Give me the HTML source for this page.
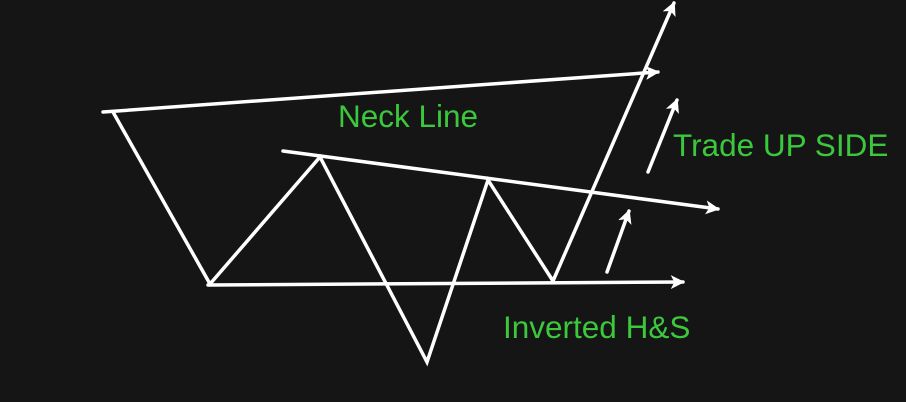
<!DOCTYPE html>
<html><head><meta charset="utf-8"><style>
html,body{margin:0;padding:0;background:#151515;}
svg{display:block}
text{font-family:"Liberation Sans",sans-serif;fill:#3cc83c;font-size:31.5px;}
</style></head><body>
<svg width="906" height="402">
<defs><marker id="ah" markerWidth="4" markerHeight="4" refX="3.5" refY="2" orient="auto" markerUnits="strokeWidth" viewBox="0 0 4 4"><path d="M0,0 L4,2 L0,4 L1,2 Z" fill="#fff"/></marker></defs>
<g id="lines" stroke="#fff" stroke-width="3.5" fill="none" stroke-linecap="round" stroke-linejoin="miter"></g>
<text x="338" y="127">Neck Line</text>
<text x="673" y="156">Trade UP SIDE</text>
<text x="503" y="338">Inverted H&amp;S</text>
</svg>
<script>
const priceX=[113,210,320,427,488,553,674];
const priceY=[112,284,157,362,180,281,3];
const topLine=[[103,112],[658,72]];
const neckLine=[[283,151],[718,209]];
const baseLine=[[208,285],[683,282]];
const arrowUp1=[[648,172],[677,100]];
const arrowUp2=[[607,272],[629,211]];
const g=document.getElementById('lines');
const NS='http://www.w3.org/2000/svg';
function poly(pts,name,arrow){
  const p=document.createElementNS(NS,'polyline');
  p.setAttribute('points',pts.map(a=>a.join(',')).join(' '));
  if(arrow)p.setAttribute('marker-end','url(#ah)');
  
  
  g.appendChild(p);
}
poly(topLine,'top-line',true);
poly(neckLine,'neck-line',true);
poly(baseLine,'base-line',true);
poly(priceX.map((x,i)=>[x,priceY[i]]),'price-path',true);
poly(arrowUp1,'trade-arrow-1',true);
poly(arrowUp2,'trade-arrow-2',true);
</script>
</body></html>
